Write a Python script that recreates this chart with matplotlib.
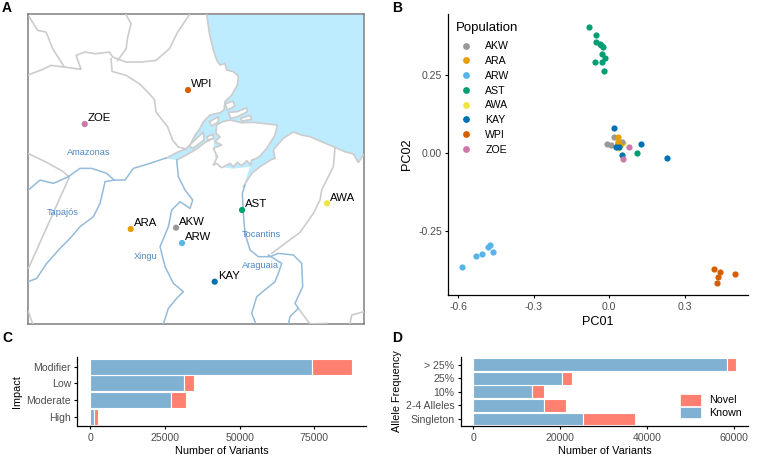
import matplotlib
matplotlib.use("Agg")
import matplotlib.pyplot as plt
from matplotlib.patches import Patch
from matplotlib.lines import Line2D

plt.rcParams["font.family"] = ["Liberation Sans", "DejaVu Sans"]

FIG_W, FIG_H = 763, 455

populations = ["AKW", "ARA", "ARW", "AST", "AWA", "KAY", "WPI", "ZOE"]
pop_colors = ["#999999", "#E69F00", "#56B4E9", "#009E73", "#F0E442", "#0072B2", "#D55E00", "#CC79A7"]

# panel A : map (map units)
north_coast = [(620,43),(628,100),(640,150),(650,180),(660,195),(675,190),(680,210),(700,215),(715,228),(712,255),
               (695,285),(675,305),(672,330),(660,338),(630,345),(610,365),(600,385),(585,405),(570,435),
               (555,448),(535,455),(497,475)]
channel_shore = [(530,480),(555,467),(590,447),(615,427),(640,415)]
south_coast = [(730,560),(755,520),(780,500),(815,478),(825,475),(820,450),(835,432),(850,415),(865,405),(880,396),
               (905,405),(930,410),(965,425),(1000,440),(1035,455),(1060,462),(1075,487),(1090,465)]
ocean = north_coast + channel_shore + [(645,470),(655,500),(700,506),(750,500)] + south_coast + [(1092,460),(1092,43)]
marajo = [(650,375),(668,365),(690,360),(725,368),(760,367),(832,375),(825,405),(800,445),(780,468),(770,475),
          (755,480),(752,495),(740,482),(725,497),(712,487),(700,500),(690,490),(665,503),(650,490),(640,495),
          (652,470),(640,445),(665,435),(645,425),(660,410),(648,400)]
islands = [
    [(675,312),(698,303),(705,318),(682,330)],
    [(685,337),(712,335),(740,323),(742,335),(712,350),(692,355)],
    [(722,355),(750,346),(755,358),(726,363)],
    [(628,365),(655,350),(655,365),(635,378)],
    [(567,437),(590,415),(610,396),(612,420),(578,445)],
    [(620,410),(640,403),(640,415),(625,420)],
]
borders = [
    [(88,51),(113,91),(138,96),(158,146),(193,201)],
    [(86,224),(123,210),(153,196),(193,201),(243,208),(228,166),(253,156),(288,161),(328,156),(338,171),
     (378,186),(423,186),(468,181),(508,146),(533,96),(568,44)],
    [(378,44),(393,71),(383,111),(378,146),(353,181)],
    [(333,176),(336,214),(378,226),(418,251),(443,276),(463,298),(468,336),(503,381),(518,421),(535,441),(555,446)],
    [(86,461),(138,486),(188,514),(208,531),(150,660),(85,805)],
    [(1005,445),(1000,500),(965,570),(960,600),(940,640),(900,697),(815,760)],
    [(895,925),(930,972),(980,970)],
    [(1050,972),(1055,945),(1092,935)],
    [(85,935),(98,972)],
    north_coast,
    channel_shore,
    south_coast,
]
rivers = [
    [(85,570),(120,540),(160,550),(205,530),(240,505),(275,505),(320,520),(342,540),(375,540),(400,505),(450,490),(497,474)],
    [(85,845),(110,835),(140,790),(180,745),(210,715),(240,680),(280,650),(300,610),(315,545),(342,540)],
    [(530,480),(535,530),(555,570),(578,600),(570,625),(540,605),(515,630),(505,680),(480,740),(495,800),
     (520,850),(550,875),(530,895),(505,925),(490,972)],
    [(735,555),(727,580),(730,640),(735,700),(750,750),(775,770),(810,770),(835,760),(880,765),(905,790),
     (908,860),(885,910),(895,925),(870,950),(865,972)],
    [(805,765),(845,790),(835,820),(825,845),(770,890),(755,940),(768,972)],
]
river_names = ["Amazonas", "Tapajós", "Xingu", "Tocantins", "Araguaia"]
river_x = [265, 188, 438, 785, 782]
river_y = [458, 636, 770, 702, 795]
site_x = [528, 392, 546, 726, 981, 644, 564, 254]
site_y = [683, 687, 729, 630, 610, 845, 270, 372]

# panel B : PC01 / PC02
pc1 = {
    "AKW": [-0.010, 0.007, 0.018, 0.049, 0.036],
    "ARA": [0.033, 0.036, 0.029, 0.042],
    "ARW": [-0.586, -0.530, -0.506, -0.484, -0.476, -0.461],
    "AST": [-0.080, -0.054, -0.052, -0.037, -0.031, -0.025, -0.029, -0.019, -0.029, -0.057, -0.021, 0.109],
    "AWA": [0.052, 0.036, 0.056],
    "KAY": [0.018, 0.125, 0.228, 0.027, 0.040, 0.050],
    "WPI": [0.417, 0.439, 0.499, 0.432, 0.430],
    "ZOE": [0.078, 0.053],
}
pc2 = {
    "AKW": [0.029, 0.024, 0.050, 0.035, 0.030],
    "ARA": [0.049, 0.035, 0.021, 0.024],
    "ARW": [-0.367, -0.332, -0.326, -0.302, -0.297, -0.319],
    "AST": [0.405, 0.377, 0.355, 0.350, 0.346, 0.340, 0.318, 0.304, 0.293, 0.291, 0.262, -0.001],
    "AWA": [0.035, 0.014, 0.030],
    "KAY": [0.079, 0.027, -0.016, 0.020, 0.020, -0.006],
    "WPI": [-0.372, -0.384, -0.391, -0.398, -0.418],
    "ZOE": [0.019, -0.021],
}

# panel C / D : variant counts
impact = ["High", "Moderate", "Low", "Modifier"]
impact_known = [1200, 27000, 31250, 74100]
impact_total = [2700, 31900, 34800, 87700]

allele = ["Singleton", "2-4 Alleles", "10%", "25%", "> 25%"]
allele_known = [25130, 16320, 13560, 20460, 58240]
allele_total = [37090, 21380, 16320, 22600, 60300]

KNOWN = "#80B1D3"
NOVEL = "#FF8071"


def px_axes(fig, left, top, right, bottom):
    return fig.add_axes([left / FIG_W, 1 - bottom / FIG_H, (right - left) / FIG_W, (bottom - top) / FIG_H])


def classic(ax):
    ax.spines["top"].set_visible(False)
    ax.spines["right"].set_visible(False)
    ax.spines["left"].set_linewidth(0.9)
    ax.spines["bottom"].set_linewidth(0.9)
    ax.tick_params(labelsize=7.6, labelcolor="#4D4D4D", length=2.4, width=0.8, pad=2)
    ax.tick_params(axis="x", pad=2.6)


def draw_map(ax):
    ax.fill([p[0] for p in ocean], [p[1] for p in ocean], color="#BDEBFF", lw=0, zorder=1)
    for shape in [marajo] + islands:
        ax.fill([p[0] for p in shape], [p[1] for p in shape], facecolor="white",
                edgecolor="#CCCCCC", lw=1.2, zorder=2, joinstyle="round")
    for line in borders:
        ax.plot([p[0] for p in line], [p[1] for p in line], color="#CCCCCC", lw=1.2, zorder=3,
                solid_joinstyle="round")
    for line in rivers:
        ax.plot([p[0] for p in line], [p[1] for p in line], color="#94BBDB", lw=1.1, zorder=4,
                solid_joinstyle="round")
    for name, x, y in zip(river_names, river_x, river_y):
        ax.text(x, y, name, color="#4F88C2", fontsize=6.7, ha="center", va="center", zorder=5)
    ax.scatter(site_x, site_y, c=pop_colors, s=20, linewidths=0, zorder=6)
    for name, x, y in zip(populations, site_x, site_y):
        ax.annotate(name, (x, y), xytext=(2.4, 2), textcoords="offset points", fontsize=8.2, zorder=7)
    ax.set_xlim(85, 1092)
    ax.set_ylim(972, 43)
    ax.set_xticks([])
    ax.set_yticks([])
    for spine in ax.spines.values():
        spine.set_color("#7F7F7F")
        spine.set_linewidth(1.1)


def draw_pca(ax):
    for name, color in zip(populations, pop_colors):
        order = 2 if name == "AWA" else 3
        ax.scatter(pc1[name], pc2[name], color=color, s=20, linewidths=0, zorder=order)
    ax.set_xlim(-0.64, 0.5515)
    ax.set_ylim(-0.457, 0.4447)
    ax.set_xticks([-0.6, -0.3, 0.0, 0.3])
    ax.set_xticklabels(["-0.6", "-0.3", "0.0", "0.3"])
    ax.set_yticks([-0.25, 0.0, 0.25])
    ax.set_yticklabels(["-0.25", "0.00", "0.25"])
    classic(ax)
    ax.set_xlabel("PC01", fontsize=9.1, labelpad=3.2)
    ax.set_ylabel("PC02", fontsize=9.1)
    ax.yaxis.set_label_coords(-0.117, 0.5)
    handles = [Line2D([], [], marker="o", ls="", color=c, markersize=4.9, markeredgewidth=0) for c in pop_colors]
    leg = ax.legend(handles, populations, title="Population", loc="upper left", bbox_to_anchor=(0.0, 1.0),
                    frameon=False, fontsize=7.6, title_fontsize=9.5, labelspacing=0.45, handletextpad=0.8,
                    borderaxespad=0.4, borderpad=0.3)
    leg._legend_box.align = "left"
    leg._legend_box.sep = 5.5


def draw_bars(ax, labels, known, total, xlim, ylim, xticks, ylabel, label_x):
    y = range(1, len(labels) + 1)
    novel = [t - k for t, k in zip(total, known)]
    ax.barh(y, known, height=0.95, color=KNOWN, edgecolor="white", linewidth=0.8)
    ax.barh(y, novel, left=known, height=0.95, color=NOVEL, edgecolor="white", linewidth=0.8)
    ax.set_yticks(list(y))
    ax.set_yticklabels(labels)
    ax.set_xticks(xticks)
    ax.set_xlim(*xlim)
    ax.set_ylim(*ylim)
    classic(ax)
    ax.set_xlabel("Number of Variants", fontsize=7.8, labelpad=2.2)
    ax.set_ylabel(ylabel, fontsize=7.8)
    ax.yaxis.set_label_coords(label_x, 0.5)


def main():
    fig = plt.figure(figsize=(FIG_W / 100, FIG_H / 100), dpi=100)

    ax_a = px_axes(fig, 28.4, 14.4, 364, 324)
    draw_map(ax_a)

    ax_b = px_axes(fig, 448.3, 14.3, 748, 295)
    draw_pca(ax_b)

    ax_c = px_axes(fig, 77.3, 356.7, 365.7, 426.3)
    draw_bars(ax_c, impact, impact_known, impact_total, (-4350, 92190), (0.42, 4.6),
              [0, 25000, 50000, 75000], "Impact", -0.193)

    ax_d = px_axes(fig, 460.7, 356.7, 748.3, 426.3)
    draw_bars(ax_d, allele, allele_known, allele_total, (-2912, 63220), (0.457, 5.6),
              [0, 20000, 40000, 60000], "Allele Frequency", -0.204)
    ax_d.legend([Patch(facecolor=NOVEL, edgecolor="white", linewidth=0.5),
                 Patch(facecolor=KNOWN, edgecolor="white", linewidth=0.5)],
                ["Novel", "Known"], loc="lower right",
                bbox_to_anchor=(0.977, 0.115), frameon=False, fontsize=7.7, handlelength=2.0, handleheight=1.3,
                labelspacing=0.1, handletextpad=0.75, borderaxespad=0, borderpad=0)

    for letter, x, y in zip("ABCD", [2, 392, 2, 392], [8, 8, 338, 338]):
        fig.text(x / FIG_W, 1 - y / FIG_H, letter, fontsize=10, fontweight="bold", va="center")

    fig.savefig("out.png", dpi=100)


if __name__ == "__main__":
    main()
